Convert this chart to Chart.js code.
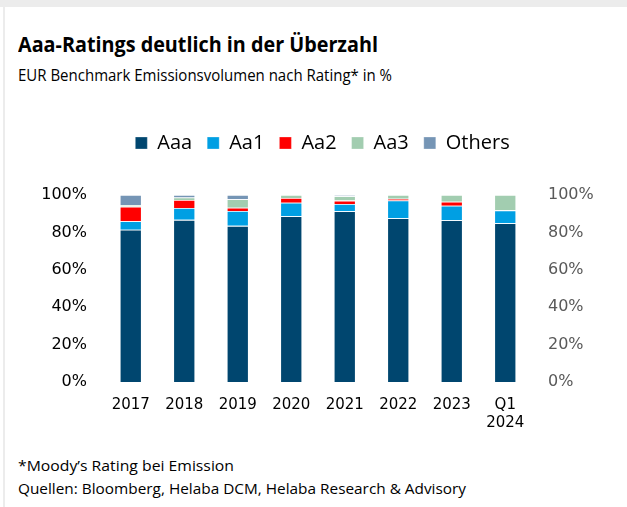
<!DOCTYPE html>
<html><head><meta charset="utf-8">
<script src="https://cdn.jsdelivr.net/npm/chart.js@4.4.1/dist/chart.umd.min.js"></script>
<style>
html,body{margin:0;padding:0;background:#fff;width:627px;height:507px;overflow:hidden;}
#frameTop{position:absolute;left:0;top:0;width:627px;height:7px;background:#ececec;}
#frameLeft{position:absolute;left:3px;top:7px;width:2px;height:500px;background:#ececec;}
.t{position:absolute;white-space:nowrap;color:#000;transform-origin:0 50%;}
#title{left:18px;top:28px;font:bold 22px "Open Sans",sans-serif;}
#sub{left:18px;top:64px;font:16px "Open Sans",sans-serif;}
#f1{left:18px;top:456px;font:14px "Open Sans",sans-serif;}
#f2{left:18px;top:479px;font:14px "Open Sans",sans-serif;}
#wrap{position:absolute;left:0;top:110px;width:627px;height:340px;}
</style></head><body>
<div id="frameTop"></div><div id="frameLeft"></div>
<div class="t" id="title" data-w="360">Aaa-Ratings deutlich in der Überzahl</div>
<div class="t" id="sub" data-w="374">EUR Benchmark Emissionsvolumen nach Rating* in %</div>
<div class="t" id="f1" data-w="216">*Moody’s Rating bei Emission</div>
<div class="t" id="f2" data-w="448">Quellen: Bloomberg, Helaba DCM, Helaba Research &amp; Advisory</div>
<div id="wrap"><canvas id="c" width="627" height="340"></canvas></div>
<script>
const categories = [["2017"],["2018"],["2019"],["2020"],["2021"],["2022"],["2023"],["Q1","2024"]];
const seriesNames = ["Aaa","Aa1","Aa2","Aa3","Others"];
const aaa    = [81.4, 86.7, 83.5, 88.6, 91.3, 87.6, 86.5, 84.9];
const aa1    = [ 4.6,  6.4,  8.0,  7.3,  3.9,  9.5,  7.8,  6.9];
const aa2    = [ 7.8,  4.2,  1.7,  2.5,  1.8,  0.9,  2.1,  0.0];
const aa3    = [ 0.9,  1.4,  4.5,  1.6,  2.3,  2.0,  3.6,  8.2];
const others = [ 5.3,  1.3,  2.3,  0.0,  0.7,  0.0,  0.0,  0.0];
const tickValues = [0,20,40,60,80,100];
const colors = ["#00466f","#009fe3","#ff0000","#a2cdb0","#7595b5"];

document.querySelectorAll('.t').forEach(el=>{
  const w = el.getBoundingClientRect().width;
  const target = +el.dataset.w;
  el.style.transform = 'scaleX(' + (target/w) + ')';
});

const series = [aaa,aa1,aa2,aa3,others];
const datasets = series.map((d,i)=>({
  label: seriesNames[i], data: d, backgroundColor: colors[i],
  borderColor: 'rgba(255,255,255,0.35)', borderWidth: 0.8,
  barPercentage: 0.41, categoryPercentage: 1.0, yAxisID: 'y'
}));
const xFont = {family: '"DejaVu Sans", sans-serif', size: 15};
const yFont = {family: '"DejaVu Sans", sans-serif', size: 16};
const legendSpace = {
  id: 'legendSpace',
  afterInit(chart){
    const lg = chart.legend;
    const orig = lg.fit.bind(lg);
    lg.fit = function(){ orig(); this.height += 32; };
  },
  afterLayout(chart){
    const lg = chart.legend;
    lg.left += 9; lg.right += 9;
  }
};
new Chart(document.getElementById('c'), {
  type: 'bar',
  data: {labels: categories, datasets},
  plugins: [legendSpace],
  options: {
    responsive: false, animation: false,
    layout: {padding: {top: 8, bottom: 0, left: 0, right: 0}},
    plugins: {
      legend: {position: 'top', labels: {
        boxWidth: 12, boxHeight: 12, padding: 15, color: '#000',
        font: {family: '"Open Sans", sans-serif', size: 20}
      }},
      tooltip: {enabled: false}
    },
    scales: {
      x: {stacked: true, grid: {display: false}, border: {display: false},
          ticks: {color: '#000', font: xFont, maxRotation: 0, padding: 6},
          afterFit: s => { s.height = 68; }},
      y: {stacked: true, min: 0, max: 100, position: 'left',
          grid: {display: false}, border: {display: false},
          afterBuildTicks: s => { s.ticks = tickValues.map(v=>({value:v})); },
          ticks: {color: '#000', font: yFont, padding: 9, callback: v => v + '%'},
          afterFit: s => { s.width = 104; }},
      y2: {min: 0, max: 100, position: 'right',
          grid: {display: false}, border: {display: false},
          afterBuildTicks: s => { s.ticks = tickValues.map(v=>({value:v})); },
          ticks: {color: '#595959', font: yFont, padding: 8, callback: v => v + '%'},
          afterFit: s => { s.width = 95; }}
    }
  }
});
</script>
</body></html>
